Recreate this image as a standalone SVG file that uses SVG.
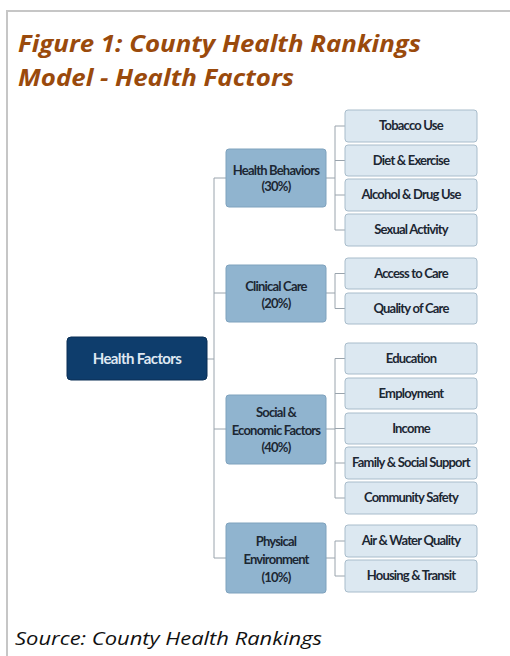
<svg xmlns="http://www.w3.org/2000/svg" width="510" height="656" viewBox="0 0 510 656">
<style>
.frame{fill:none;stroke:#c6c6c6;stroke-width:2}
.title{font-family:"Open Sans","Liberation Sans",sans-serif;font-weight:bold;font-style:italic;font-size:23px;fill:#9a4a0c}
.src{font-family:"Open Sans","Liberation Sans",sans-serif;font-style:italic;font-size:18px;fill:#111}
.root{fill:#0e3d6c;stroke:#0a2f55;stroke-width:1}
.mid{fill:#90b4cf;stroke:#7fa2bd;stroke-width:1}
.leaf{fill:#dce8f1;stroke:#a8bccb;stroke-width:1}
.t{font-family:Lato,"Liberation Sans",sans-serif;font-weight:bold;font-size:13px;fill:#1c2733;text-anchor:middle;letter-spacing:-0.8px}
.rt{font-family:Lato,"Liberation Sans",sans-serif;font-weight:bold;font-size:15px;fill:#dfe8f2;text-anchor:middle;letter-spacing:-0.6px}
.c{fill:none;stroke:#9aa4ad;stroke-width:1}
</style>
<rect width="510" height="656" fill="#fff"/>
<path class="frame" d="M7 656 V11 H510"/>
<text class="title" x="18" y="52" textLength="403" lengthAdjust="spacingAndGlyphs">Figure 1: County Health Rankings</text>
<text class="title" x="18" y="86" textLength="276" lengthAdjust="spacingAndGlyphs">Model - Health Factors</text>
<text class="src" x="15" y="645" textLength="307" lengthAdjust="spacingAndGlyphs">Source: County Health Rankings</text>
<g id="connectors">
<path class="c" d="M207 359 H214 M214 178 V558 M214 178 H226 M214 293 H226 M214 429 H226 M214 558 H226"/>
<path class="c" d="M326 178 H335 M335 126 V230 M335 126 H345 M335 160.5 H345 M335 195 H345 M335 230 H345"/>
<path class="c" d="M326 293 H335 M335 273.5 V308.5 M335 273.5 H345 M335 308.5 H345"/>
<path class="c" d="M326 429 H335 M335 358.5 V498 M335 358.5 H345 M335 393.5 H345 M335 428.5 H345 M335 463 H345 M335 498 H345"/>
<path class="c" d="M326 558 H335 M335 541 V576 M335 541 H345 M335 576 H345"/>
</g>
<g id="health-factors"><rect class="root" x="67" y="337" width="140" height="43" rx="4"/><text class="rt" x="137" y="364">Health Factors</text></g>
<g id="health-behaviors"><rect class="mid" x="226" y="149" width="100" height="58" rx="3"/><text class="t" x="276" y="175">Health Behaviors</text><text class="t" x="276" y="191">(30%)</text></g>
<g id="clinical-care"><rect class="mid" x="226" y="265" width="100" height="57" rx="3"/><text class="t" x="276" y="291">Clinical Care</text><text class="t" x="276" y="308">(20%)</text></g>
<g id="social-economic"><rect class="mid" x="226" y="395" width="100" height="69" rx="3"/><text class="t" x="276" y="417">Social &amp;</text><text class="t" x="276" y="435">Economic Factors</text><text class="t" x="276" y="452">(40%)</text></g>
<g id="physical-environment"><rect class="mid" x="226" y="523" width="100" height="70" rx="3"/><text class="t" x="276" y="546">Physical</text><text class="t" x="276" y="564">Environment</text><text class="t" x="276" y="582">(10%)</text></g>
<g id="tobacco"><rect class="leaf" x="345" y="110" width="132" height="32" rx="3"/><text class="t" x="411" y="130">Tobacco Use</text></g>
<g id="diet"><rect class="leaf" x="345" y="145" width="132" height="31" rx="3"/><text class="t" x="411" y="165">Diet &amp; Exercise</text></g>
<g id="alcohol"><rect class="leaf" x="345" y="179" width="132" height="32" rx="3"/><text class="t" x="411" y="199">Alcohol &amp; Drug Use</text></g>
<g id="sexual"><rect class="leaf" x="345" y="214" width="132" height="32" rx="3"/><text class="t" x="411" y="234">Sexual Activity</text></g>
<g id="access"><rect class="leaf" x="345" y="258" width="132" height="31" rx="3"/><text class="t" x="411" y="278">Access to Care</text></g>
<g id="quality"><rect class="leaf" x="345" y="293" width="132" height="31" rx="3"/><text class="t" x="411" y="313">Quality of Care</text></g>
<g id="education"><rect class="leaf" x="345" y="343" width="132" height="31" rx="3"/><text class="t" x="411" y="363">Education</text></g>
<g id="employment"><rect class="leaf" x="345" y="378" width="132" height="31" rx="3"/><text class="t" x="411" y="398">Employment</text></g>
<g id="income"><rect class="leaf" x="345" y="413" width="132" height="31" rx="3"/><text class="t" x="411" y="433">Income</text></g>
<g id="family"><rect class="leaf" x="345" y="447" width="132" height="32" rx="3"/><text class="t" x="411" y="467">Family &amp; Social Support</text></g>
<g id="community"><rect class="leaf" x="345" y="482" width="132" height="32" rx="3"/><text class="t" x="411" y="502">Community Safety</text></g>
<g id="air-water"><rect class="leaf" x="345" y="525" width="132" height="32" rx="3"/><text class="t" x="411" y="545">Air &amp; Water Quality</text></g>
<g id="housing"><rect class="leaf" x="345" y="560" width="132" height="32" rx="3"/><text class="t" x="411" y="580">Housing &amp; Transit</text></g>
</svg>
